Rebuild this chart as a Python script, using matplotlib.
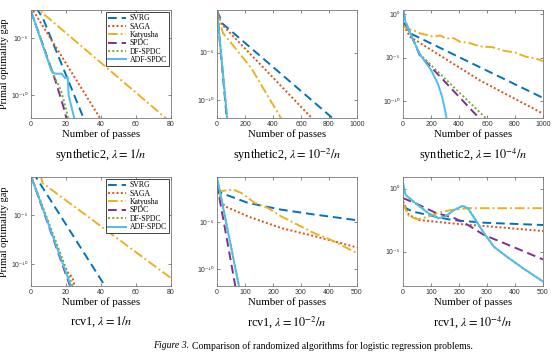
import matplotlib
matplotlib.use("Agg")
import matplotlib.pyplot as plt
import numpy as np

plt.rcParams['font.family'] = ['Liberation Serif', 'DejaVu Serif']
plt.rcParams['mathtext.fontset'] = 'stix'

################################################################################
# values, gap stored as log10(gap)

names = ["SVRG", "SAGA", "Katyusha", "SPDC", "DF-SPDC", "ADF-SPDC"]
colors = ["#0072BD", "#D95319", "#EDB120", "#7E2F8E", "#77AC30", "#4DBEEE"]
styles = [(0, (4.5, 2.5)), (0, (1, 1.2)), (0, (5, 1.5, 1, 1.5)), (0, (4.5, 2.5)), (0, (1, 1.2)), "-"]

titles = [r"synthetic2, $\lambda = 1/n$", r"synthetic2, $\lambda = 10^{-2}/n$",
          r"synthetic2, $\lambda = 10^{-4}/n$", r"rcv1, $\lambda = 1/n$",
          r"rcv1, $\lambda = 10^{-2}/n$", r"rcv1, $\lambda = 10^{-4}/n$"]
xmax = [80, 1000, 1000, 80, 500, 500]
xstep = [20, 200, 200, 20, 100, 100]
ylo = [-12.0, -11.9, -11.9, -12.2, -11.8, -7.7]
yhi = [-2.5, -0.45, 0.46, -1.1, -0.2, 0.93]
ytick_exp = [0, -5, -10]
ytick_txt = ["10\u2070", "10\u207b\u2075", "10\u207b\u00b9\u2070"]

# synthetic2, lambda = 1/n
syn_1 = {
    "SVRG": ([3, 7, 30], [-2.3, -3.3, -12.0]),
    "SAGA": ([0, 40], [-2.24, -12.15]),
    "Katyusha": ([0, 80], [-1.9, -12.4]),
    "SPDC": ([0, 13.7, 18.5, 20.5], [-2.6, -8.6, -11.0, -12.2]),
    "DF-SPDC": ([0, 13, 17, 20, 21.5], [-2.6, -8.3, -9.5, -11.2, -12.2]),
    "ADF-SPDC": ([0, 11.8, 13.7, 17.5, 19.5, 21.0, 21.5, 25], [-2.6, -7.9, -8.1, -8.1, -8.5, -8.4, -10.0, -12.2]),
}
# synthetic2, lambda = 1e-2/n
syn_2 = {
    "SVRG": ([0, 40, 840], [-0.5, -1.9, -12.1]),
    "SAGA": ([0, 30, 690], [-0.5, -1.9, -12.1]),
    "Katyusha": ([0, 20, 43, 120, 245, 364, 460], [-0.5, -1.8, -2.9, -4.3, -6.6, -9.6, -12.0]),
    "SPDC": ([0, 70], [-0.5, -12.0]),
    "DF-SPDC": ([0, 73], [-0.5, -12.0]),
    "ADF-SPDC": ([0, 73], [-0.5, -12.0]),
}
# synthetic2, lambda = 1e-4/n
syn_3 = {
    "SVRG": ([5, 50, 1000], [-1.0, -2.2, -9.6]),
    "SAGA": ([5, 50, 550, 1000], [-1.3, -2.6, -7.6, -11.4]),
    "Katyusha": ([0, 30, 75, 120, 170, 220, 265, 310, 360, 410, 460, 550, 640, 720, 800, 880, 950, 1000],
                 [-1.3, -1.7, -1.85, -2.2, -2.4, -2.6, -2.45, -2.8, -2.75, -3.2, -3.25, -3.7, -3.8, -4.2, -4.4, -4.9, -5.1, -5.4]),
    "SPDC": ([0, 20, 60, 120, 549], [0.45, -1.0, -2.5, -4.7, -12.0]),
    "DF-SPDC": ([0, 20, 60, 120, 597], [0.45, -1.0, -2.5, -4.6, -12.0]),
    "ADF-SPDC": ([0, 20, 60, 120, 200, 250, 280, 300, 312], [0.45, -1.0, -2.5, -4.6, -6.4, -8.0, -9.5, -11.0, -12.0]),
}
# rcv1, lambda = 1/n
rcv_1 = {
    "SVRG": ([1, 43], [-0.6, -12.4]),
    "SAGA": ([0, 20, 22, 23.5, 24.5, 25], [-1.0, -10.6, -11.0, -11.3, -11.8, -12.5]),
    "Katyusha": ([5.5, 6.5, 80], [-0.9, -1.7, -11.4]),
    "SPDC": ([0, 22.5], [-1.0, -12.3]),
    "DF-SPDC": ([0, 24], [-1.0, -12.3]),
    "ADF-SPDC": ([0, 23], [-1.0, -12.3]),
}
# rcv1, lambda = 1e-2/n
rcv_2 = {
    "SVRG": ([0, 15, 111, 230, 349, 500], [-1.2, -1.9, -2.96, -3.68, -4.2, -4.8]),
    "SAGA": ([0, 5, 27, 111, 230, 349, 500], [-1.4, -2.1, -3.3, -4.4, -5.64, -6.5, -7.7]),
    "Katyusha": ([0, 15, 57, 87, 135, 182, 230, 289, 349, 408, 500],
                 [-1.5, -1.7, -1.54, -1.9, -2.96, -3.5, -4.4, -5.3, -6.2, -6.9, -8.3]),
    "SPDC": ([0, 66], [-1.0, -11.9]),
    "DF-SPDC": ([0, 79], [-0.2, -11.9]),
    "ADF-SPDC": ([0, 79], [-0.2, -11.9]),
}
# rcv1, lambda = 1e-4/n
rcv_3 = {
    "SVRG": ([0, 33, 115, 173, 290, 500], [-1.41, -1.8, -2.2, -2.47, -2.69, -2.87]),
    "SAGA": ([0, 21, 56, 173, 349, 500], [-1.0, -2.07, -2.47, -2.74, -3.06, -3.35]),
    "Katyusha": ([0, 21, 56, 91, 126, 173, 232, 349, 500], [-1.14, -2.2, -2.42, -2.2, -1.89, -1.68, -1.54, -1.54, -1.54]),
    "SPDC": ([0, 44, 115, 185, 232, 290, 349, 407, 500], [-0.74, -1.14, -1.89, -2.34, -2.87, -3.67, -4.2, -4.73, -5.6]),
    "DF-SPDC": ([0, 9, 44, 91, 126, 150, 183, 212, 232, 255, 290, 325, 372, 431, 500],
                [0.45, -0.48, -1.14, -1.94, -2.34, -2.2, -1.68, -1.36, -1.54, -2.34, -3.54, -4.6, -5.4, -6.33, -7.35]),
    "ADF-SPDC": ([0, 9, 44, 91, 126, 150, 183, 212, 232, 255, 290, 325, 372, 431, 500],
                 [0.45, -0.48, -1.14, -1.94, -2.34, -2.2, -1.68, -1.36, -1.54, -2.34, -3.54, -4.6, -5.4, -6.33, -7.35]),
}
panels = [syn_1, syn_2, syn_3, rcv_1, rcv_2, rcv_3]

################################################################################

W, H = 553, 359
fig = plt.figure(figsize=(W / 100, H / 100), dpi=100)

lefts = [31, 217, 403]
rows = [(10, 118), (177, 286)]
title_y = [155, 322]
grey = "#555555"
sans = ['Liberation Sans', 'DejaVu Sans']

for k, data in enumerate(panels):
    r, c = divmod(k, 3)
    top, bot = rows[r]
    ax = fig.add_axes([lefts[c] / W, 1 - bot / H, 140 / W, (bot - top) / H])
    for name, col, ls in zip(names, colors, styles):
        x, ly = data[name]
        ax.plot(x, 10.0 ** np.array(ly), color=col, linestyle=ls, lw=1.4, label=name)
    ax.set_yscale('log')
    xt = np.arange(0, xmax[k] + 1, xstep[k])
    ax.set_xticks(xt)
    ax.set_xticklabels([str(v) for v in xt], fontfamily=sans)
    ax.set_yticks([10.0 ** e for e in ytick_exp])
    ax.set_yticklabels(ytick_txt, fontfamily=sans)
    ax.minorticks_off()
    # limits after the ticks, otherwise set_yticks widens the view
    ax.set_xlim(0, xmax[k])
    ax.set_ylim(10 ** ylo[k], 10 ** yhi[k])
    ax.tick_params(direction='in', top=True, right=True, labelsize=5, length=2.5,
                   width=0.5, colors=grey, labelcolor="#333333", pad=2)
    for s in ax.spines.values():
        s.set_color("#777777")
        s.set_linewidth(0.6)
    ax.set_xlabel("Number of passes", fontsize=7.8, labelpad=1)
    if c == 0:
        ax.set_ylabel("Primal optimality gap", fontsize=7.5, labelpad=2)
        leg = ax.legend(loc='upper right', fontsize=5.6, frameon=True, fancybox=False,
                        edgecolor='#222222', framealpha=1, borderpad=0.25,
                        labelspacing=0.05, handlelength=2.4, handletextpad=0.4,
                        borderaxespad=0.3)
        leg.get_frame().set_linewidth(0.6)
    fig.text((lefts[c] + 70) / W, 1 - title_y[r] / H, titles[k], fontsize=8.8,
             ha='center', va='center')

fig.text(153 / W, 1 - 346 / H, "Figure 3.", fontsize=7, style='italic', ha='left', va='center')
fig.text(192 / W, 1 - 346 / H, "Comparison of randomized algorithms for logistic regression problems.",
         fontsize=7, ha='left', va='center')

fig.savefig("out.png", dpi=100)
